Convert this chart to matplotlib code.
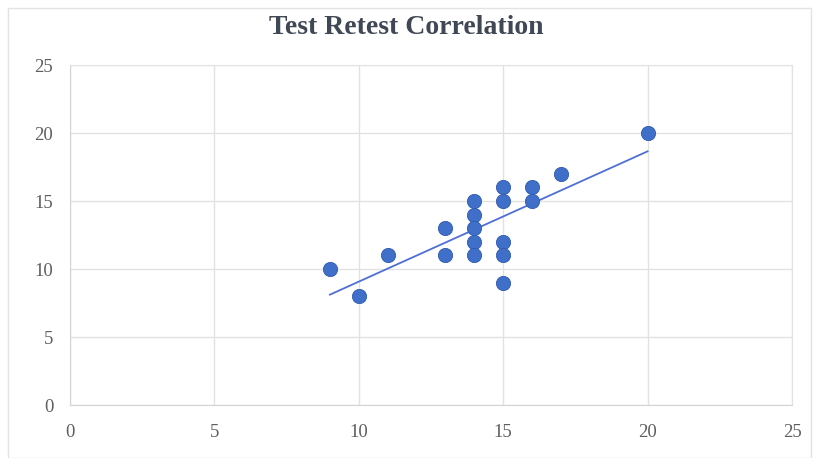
import matplotlib
matplotlib.use("Agg")
import matplotlib.pyplot as plt
import numpy as np
from matplotlib.patches import Rectangle

test_scores = [9, 10, 11, 13, 13, 14, 14, 14, 14, 14, 15, 15, 15, 15, 15, 16, 16, 17, 20]
retest_scores = [10, 8, 11, 13, 11, 15, 14, 13, 12, 11, 16, 15, 12, 11, 9, 16, 15, 17, 20]
ticks = [0, 5, 10, 15, 20, 25]
title = "Test Retest Correlation"

plt.rcParams['font.family'] = ['Liberation Serif', 'DejaVu Serif']

fig = plt.figure(figsize=(8.13, 4.58), dpi=100)
fig.add_artist(Rectangle((8/813, 0), 1 - 8/813 - 0.002, 1 - 8/458, transform=fig.transFigure,
                         fill=False, edgecolor='#e3e3e3', linewidth=1))
ax = fig.add_axes([70/813, 1 - 405/458, (792 - 70)/813, (405 - 65)/458])

x = np.array(test_scores, dtype=float)
y = np.array(retest_scores, dtype=float)
slope, intercept = np.polyfit(x, y, 1)
xs = np.array([x.min(), x.max()])
ax.plot(xs, slope * xs + intercept, color='#4f6fd6', linewidth=1.3, zorder=2)
ax.scatter(x, y, s=105, color='#3f6fc8', edgecolors='#2f5bb0', linewidths=0.6, zorder=3)

ax.set_xlim(0, 25)
ax.set_ylim(0, 25)
ax.set_xticks(ticks)
ax.set_yticks(ticks)
ax.grid(True, color='#e2e2e2', linewidth=1)
ax.set_axisbelow(True)
for side in ['top', 'right']:
    ax.spines[side].set_color('#e2e2e2')
for side in ['left', 'bottom']:
    ax.spines[side].set_color('#d4d4d4')
ax.tick_params(length=0, labelsize=13.5, labelcolor='#5f5f5f')
ax.tick_params(axis='x', pad=14)
ax.tick_params(axis='y', pad=12)

fig.text(0.5, 1 - 27/458, title, ha='center', va='center', fontsize=20,
         fontweight='bold', color='#404856')

fig.savefig("out.png", dpi=100)
